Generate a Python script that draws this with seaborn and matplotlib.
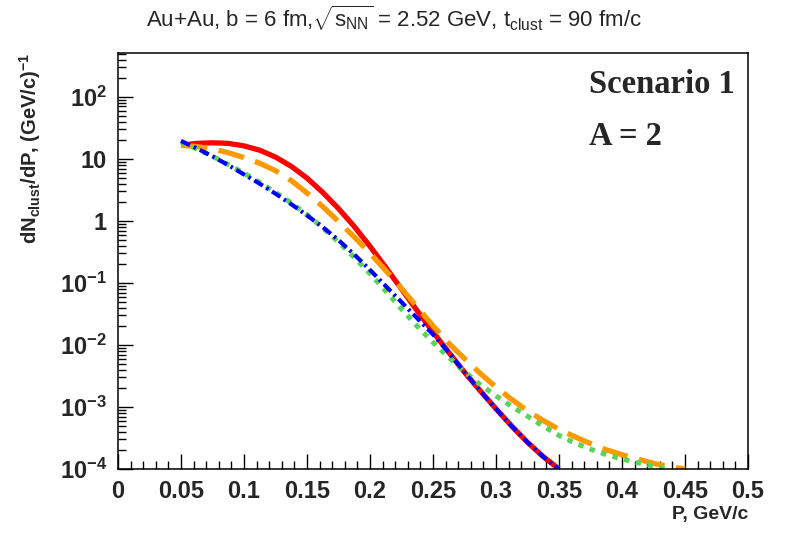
import numpy as np
import pandas as pd
import seaborn as sns
import matplotlib
matplotlib.use("Agg")
import matplotlib.pyplot as plt
from matplotlib.ticker import FixedLocator, MultipleLocator, LogLocator, FuncFormatter

# momentum grid (GeV/c) and dN/dP
p_short = np.linspace(0.05, 0.35, 25)
p_green = np.append(np.linspace(0.05, 0.425, 31), 0.435)
p_orange = np.linspace(0.05, 0.45, 33)

red = [16.6, 17.8, 18.2, 17.8, 16.2, 13.8, 10.7, 7.59, 4.90, 2.88, 1.58, 0.813, 0.389,
       0.178, 0.0794, 0.0355, 0.0162, 0.00759, 0.00363, 0.00182, 0.000933, 0.000490,
       0.000269, 0.000158, 0.0001]
blue = [19.5, 14.8, 11.0, 7.94, 5.62, 3.98, 2.75, 1.86, 1.23, 0.794, 0.490, 0.288, 0.162,
        0.0891, 0.0490, 0.0269, 0.0148, 0.00759, 0.00363, 0.00182, 0.000933, 0.000490,
        0.000269, 0.000158, 0.0001]
green = [18.6, 14.5, 11.0, 8.13, 5.89, 4.17, 2.88, 1.95, 1.26, 0.776, 0.457, 0.257, 0.141,
         0.0741, 0.0380, 0.0200, 0.0110, 0.00631, 0.00372, 0.00229, 0.00151, 0.00102,
         0.000708, 0.000490, 0.000347, 0.000263, 0.000209, 0.000170, 0.000145, 0.000126,
         0.000112, 0.0001]
orange = [16.6, 15.8, 14.5, 12.6, 10.5, 8.51, 6.46, 4.47, 2.82, 1.70, 0.977, 0.550, 0.302,
          0.158, 0.0813, 0.0407, 0.0204, 0.0107, 0.00603, 0.00347, 0.00209, 0.00132,
          0.000871, 0.000603, 0.000437, 0.000331, 0.000257, 0.000204, 0.000170, 0.000145,
          0.000123, 0.000110, 0.0001]

decades = [1e-4, 1e-3, 1e-2, 1e-1, 1, 10, 100]
decade_labels = [r"$\mathbf{10^{-4}}$", r"$\mathbf{10^{-3}}$", r"$\mathbf{10^{-2}}$",
                 r"$\mathbf{10^{-1}}$", "1", "10", r"$\mathbf{10^{2}}$"]

sns.set_style("ticks")
plt.rcParams["font.family"] = ["Liberation Sans", "DejaVu Sans"]
plt.rcParams["mathtext.fontset"] = "custom"
plt.rcParams["mathtext.rm"] = "Liberation Sans"
plt.rcParams["mathtext.it"] = "Liberation Sans"
plt.rcParams["mathtext.bf"] = "Liberation Sans:bold"

fig = plt.figure(figsize=(7.88, 5.34), dpi=100)
ax = fig.add_axes([118 / 788, 1 - 469 / 534, 630 / 788, 416 / 534])

# drawing order: red, orange, green, blue on top
sns.lineplot(x=p_short, y=red, ax=ax, color="#ff0000", lw=3.8, solid_capstyle="butt")
sns.lineplot(x=p_orange, y=orange, ax=ax, color="#ff9900", lw=3.8)
ax.lines[-1].set_dashes([5, 2.2])
sns.lineplot(x=p_green, y=green, ax=ax, color="#5ad35a", lw=3.6)
ax.lines[-1].set_dashes([1.1, 1.3])
sns.lineplot(x=p_short, y=blue, ax=ax, color="#0000ff", lw=3.0)
ax.lines[-1].set_dashes([2.4, 1.0, 0.6, 1.0])

ax.set_yscale("log")
ax.set_xlim(0, 0.5)
ax.set_ylim(1e-4, 510)

ax.xaxis.set_major_locator(MultipleLocator(0.05))
ax.xaxis.set_minor_locator(MultipleLocator(0.01))
ax.xaxis.set_major_formatter(FuncFormatter(lambda v, _: "0" if abs(v) < 1e-9 else f"{v:g}"))
ax.yaxis.set_major_locator(FixedLocator(decades))
ax.set_yticklabels(decade_labels)
ax.yaxis.set_minor_locator(LogLocator(base=10, subs=np.arange(2, 10)))
ax.yaxis.set_minor_formatter(FuncFormatter(lambda v, _: ""))

ax.tick_params(axis="both", which="both", direction="in", top=False, right=False, color="black")
ax.tick_params(axis="both", which="major", length=11, width=1, labelsize=17, pad=8)
ax.tick_params(axis="both", which="minor", length=6, width=1)
for lab in ax.get_xticklabels() + ax.get_yticklabels():
    lab.set_fontweight("bold")
for s in ax.spines.values():
    s.set_linewidth(1.1)
    s.set_color("black")

ax.set_xlabel("P, GeV/c", fontsize=14, fontweight="bold", loc="right", labelpad=2)
ax.set_ylabel(r"dN$_{\mathbf{clust}}$/dP, (GeV/c)$^{\mathbf{-1}}$", fontsize=14.5,
              fontweight="bold", loc="top", labelpad=12)

fig.text(0.5, 0.966,
         r"Au+Au, b = 6 fm,$\sqrt{s_{\rm NN}}$ = 2.52 GeV, t$_{\rm clust}$ = 90 fm/c",
         ha="center", va="center", fontsize=16)

ax.text(0.748, 0.925, "Scenario 1", transform=ax.transAxes, family="Liberation Serif",
        fontweight="bold", fontsize=23.5, ha="left", va="center")
ax.text(0.748, 0.80, "A = 2", transform=ax.transAxes, family="Liberation Serif",
        fontweight="bold", fontsize=23.5, ha="left", va="center")

fig.savefig("out.png", dpi=100)
